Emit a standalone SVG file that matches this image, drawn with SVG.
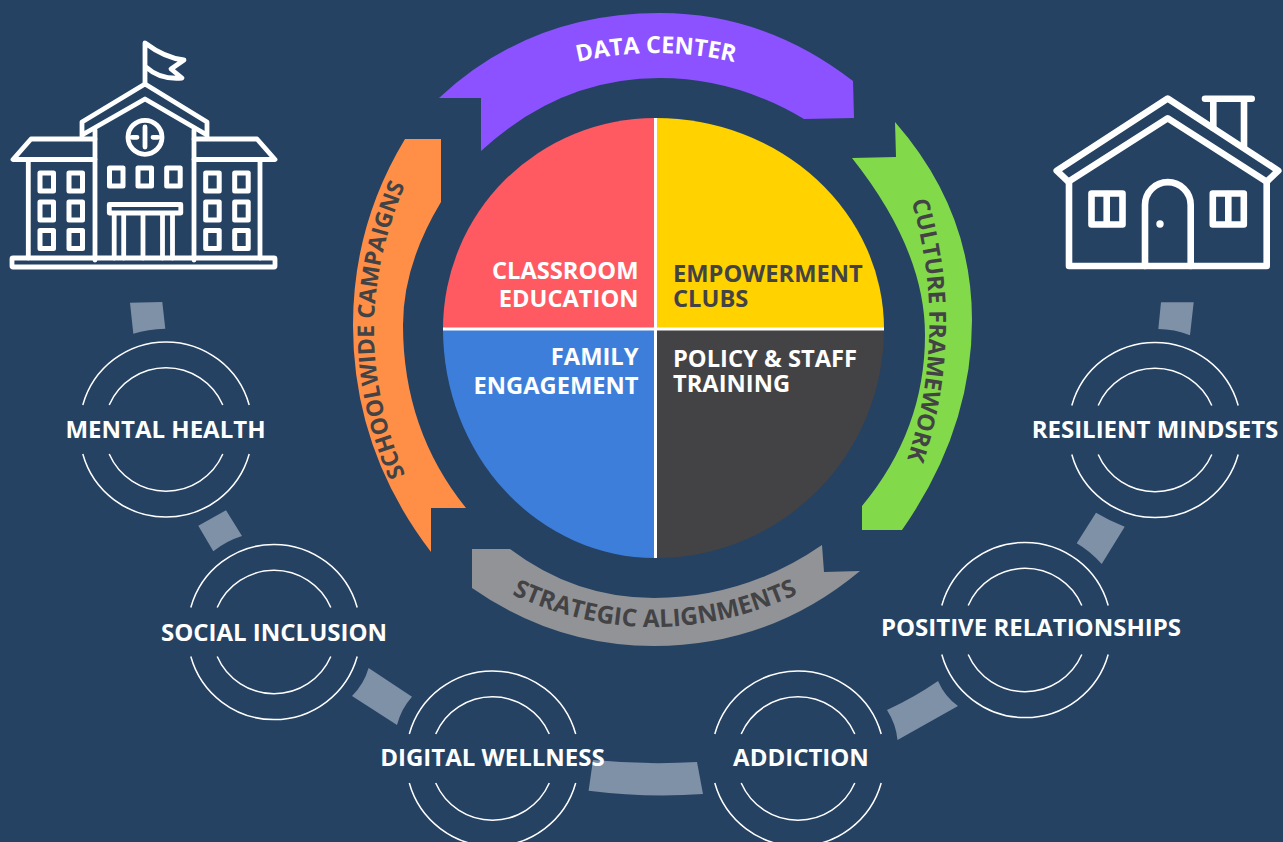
<svg xmlns="http://www.w3.org/2000/svg" width="1283" height="842" viewBox="0 0 1283 842">
<style>
text{font-family:"Open Sans","Noto Sans","Liberation Sans",sans-serif;font-weight:700}
.w{fill:#fff}.d{fill:#434345}
.l{font-size:24px;text-anchor:middle;fill:#fff}
.c{font-size:23.7px}
.ring{fill:none;stroke:#fff;stroke-width:1.5}
.seg{fill:#7f91a6}
.ic{fill:none;stroke:#fff;stroke-linejoin:round;stroke-linecap:round}
</style>
<defs>
<path id="r" d="M-83.2-24.5A86.4 86.4 0 0 1 83.2-24.5M-56.8-24.5A62 62 0 0 1 56.8-24.5M-83.2 24.5A86.4 86.4 0 0 0 83.2 24.5M-56.8 24.5A62 62 0 0 0 56.8 24.5"/>
<path id="pD" d="M540 73Q655 33 772 73"/>
<path id="pG" d="M903 175Q958 330 898 485"/>
<path id="pO" d="M417 500Q331 330 417 160"/>
<path id="pS" d="M480 578Q652 676 830 578"/>
</defs>
<rect width="1283" height="842" fill="#254263"/>
<g id="pie">
<path d="M655.5 329V118A212 211 0 0 0 443 329Z" fill="#ff5a62"/>
<path d="M655.5 329V118A228 211 0 0 1 884 329Z" fill="#ffd200"/>
<path d="M655.5 329V558A212 229 0 0 1 443 329Z" fill="#3d7edb"/>
<path d="M655.5 329V558A228 229 0 0 0 884 329Z" fill="#434345"/>
<path d="M655.5 118V558M443 329H884" stroke="#fff" stroke-width="3" fill="none"/>
</g>
<g id="q1"><text class="w c" text-anchor="end" x="638.5" y="279">CLASSROOM</text><text class="w c" text-anchor="end" x="638.5" y="307">EDUCATION</text></g>
<g id="q2"><text class="d c" x="673" y="282">EMPOWERMENT</text><text class="d c" x="673" y="307">CLUBS</text></g>
<g id="q3"><text class="w c" text-anchor="end" x="638.5" y="365">FAMILY</text><text class="w c" text-anchor="end" x="638.5" y="393.5">ENGAGEMENT</text></g>
<g id="q4"><text class="w c" x="673" y="367">POLICY &amp; STAFF</text><text class="w c" x="673" y="392">TRAINING</text></g>
<g id="data-center"><path d="M439 98H481V151Q560 78 660 78Q735 78 804 119L854 118L853 81Q765 13 660 13Q530 13 439 98Z" fill="#8c52ff"/><text class="w" font-size="23.4"><textPath href="#pD" startOffset="50%" text-anchor="middle">DATA CENTER</textPath></text></g>
<g id="culture"><path d="M895 122L896 157L852 158Q925 250 925 335Q925 430 862 506V530L902 530Q972 430 972 320Q972 210 895 122Z" fill="#82d94a"/><text class="d" font-size="23.3"><textPath href="#pG" startOffset="50%" text-anchor="middle">CULTURE FRAMEWORK</textPath></text></g>
<g id="strategic"><path d="M472 549H510Q575 598 654 598Q745 598 822 545L824 572L860 571Q770 646 654 646Q555 646 472 588Z" fill="#929397"/><text class="d" font-size="24.4"><textPath href="#pS" startOffset="50%" text-anchor="middle">STRATEGIC ALIGNMENTS</textPath></text></g>
<g id="schoolwide"><path d="M405 139H441V202Q403 265 403 325Q403 430 466 508H431V552Q353 450 353 325Q353 225 405 139Z" fill="#ff8f47"/><text class="d" font-size="23"><textPath href="#pO" startOffset="50%" text-anchor="middle">SCHOOLWIDE CAMPAIGNS</textPath></text></g>
<g id="connectors" class="seg">
<path d="M130 302.7L162.3 302L165.3 328.7Q148 329 133.3 333.7Z"/>
<path d="M198.3 525.7L226 510.3L242 536Q226 541 213.3 551.3Z"/>
<path d="M368.6 668L412 696.7Q401 709 397 725L352 696Q364 684 368.6 668Z"/>
<path d="M593 760Q646 765 697 762L703 794Q646 798 588.6 790.7Z"/>
<path d="M887 710Q915 697 938 681Q945 697 958 706L897.5 740Q896 724 887 710Z"/>
<path d="M1096 512.7Q1110 521 1124.7 526.7L1101.7 564Q1090 551 1076.7 543.3Z"/>
<path d="M1161 302.3H1193.7L1190 335.3Q1174 329 1158.3 329Z"/>
</g>
<g id="n-mental"><use href="#r" x="166" y="429.5" class="ring"/><text class="l" x="165.5" y="438">MENTAL HEALTH</text></g>
<g id="n-social"><use href="#r" x="274" y="632" class="ring"/><text class="l" x="274" y="641">SOCIAL INCLUSION</text></g>
<g id="n-digital"><use href="#r" x="492.5" y="758.5" class="ring"/><text class="l" x="492.5" y="766">DIGITAL WELLNESS</text></g>
<g id="n-addiction"><use href="#r" x="798" y="758.5" class="ring"/><text class="l" x="801" y="766">ADDICTION</text></g>
<g id="n-positive"><use href="#r" x="1025" y="630" class="ring"/><text class="l" x="1031" y="636">POSITIVE RELATIONSHIPS</text></g>
<g id="n-resilient"><use href="#r" x="1155" y="430" class="ring"/><text class="l" x="1155" y="438">RESILIENT MINDSETS</text></g>
<g id="school" class="ic" stroke-width="4.8">
<path d="M145 84V43Q165 58 184 60L171 69L182 78Q160 80 146 67"/>
<path d="M82 137V122L145 84L207 122V137M82 135L145 99L207 135"/>
<path d="M95 130V260M194 130V260"/>
<circle cx="145" cy="137.3" r="17"/>
<path d="M145 127V147M132 137.3H137M153 137.3H158"/>
<path d="M95 139H31L13 159.5H95M194 139H257L275 159.5H194M28.3 159.5V258M260 159.5V258"/>
<rect x="12" y="258" width="263" height="9" rx="1"/>
<g stroke-width="5">
<rect x="40" y="173" width="13.5" height="18"/><rect x="69" y="173" width="13.5" height="18"/>
<rect x="40" y="202" width="13.5" height="18"/><rect x="69" y="202" width="13.5" height="18"/>
<rect x="40" y="230.5" width="13.5" height="18"/><rect x="69" y="230.5" width="13.5" height="18"/>
<rect x="205.7" y="173" width="13.5" height="18"/><rect x="234.7" y="173" width="13.5" height="18"/>
<rect x="205.7" y="202" width="13.5" height="18"/><rect x="234.7" y="202" width="13.5" height="18"/>
<rect x="205.7" y="230.5" width="13.5" height="18"/><rect x="234.7" y="230.5" width="13.5" height="18"/>
<rect x="109.5" y="168" width="13.5" height="18"/><rect x="138" y="168" width="13.5" height="18"/><rect x="166.7" y="168" width="13.5" height="18"/>
</g>
<rect x="109.3" y="204.5" width="71.5" height="8.5"/>
<path d="M114.2 215V258M123.7 215V258M143 215V258M162.5 215V258M172.5 215V258"/>
</g>
<g id="home" class="ic" stroke-width="6.6">
<path d="M1167.7 98.5L1056.7 170.7L1068.3 181.7L1167.7 118.3L1266.7 181.7L1278.3 170.7Z"/>
<path d="M1069 182V266H1266.7V182"/>
<path d="M1145 266V205A22.8 22.8 0 0 1 1190.7 205V266"/>
<circle cx="1160" cy="224" r="3.7" fill="#fff" stroke="none"/>
<rect x="1091.5" y="193.5" width="31" height="31"/><path d="M1106.7 194V224"/>
<rect x="1212.8" y="193.5" width="31" height="31"/><path d="M1228.3 194V224"/>
<path d="M1205 98.7H1251.7M1213.3 98.7V128M1244 98.7V146"/>
</g>
</svg>
